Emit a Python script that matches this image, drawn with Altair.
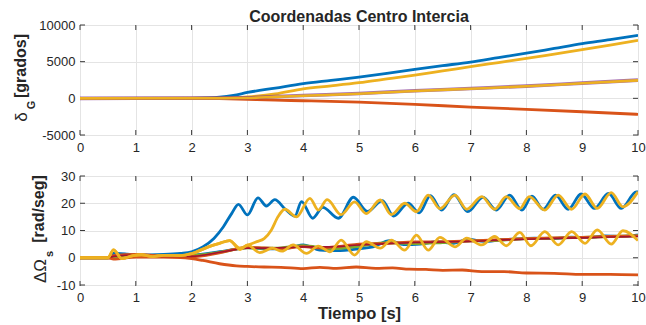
import altair as alt
import pandas as pd

# ---------------- top panel: delta_G [grados] ----------------
TOP_BLUE_T = [0, 2.0, 2.3, 2.5, 2.75, 3.0, 3.5, 4.0, 4.5, 5.0, 5.5, 6.0, 6.5, 7.0, 7.5, 8.0, 8.5, 9.0, 9.5, 10]
TOP_BLUE_V = [0, 0, 50, 150, 400, 800, 1400, 2000, 2450, 2900, 3400, 3950, 4450, 4950, 5550, 6150, 6800, 7450, 8000, 8600]

TOP_YEL1_T = [0, 2.5, 3.0, 3.5, 4.0, 4.5, 5.0, 5.5, 6.0, 6.5, 7.0, 7.5, 8.0, 8.5, 9.0, 9.5, 10]
TOP_YEL1_V = [0, 0, 200, 600, 1300, 1700, 2130, 2650, 3180, 3750, 4310, 4880, 5450, 6040, 6630, 7250, 7900]

TOP_YEL2_T = [0, 3.0, 3.5, 4.0, 5.0, 6.0, 7.0, 8.0, 9.0, 10]
TOP_YEL2_V = [0, 50, 200, 350, 630, 1000, 1310, 1640, 2050, 2450]
TOP_PUR_V = [0, 80, 230, 380, 660, 1030, 1340, 1670, 2080, 2480]

TOP_ORA_T = [0, 2.0, 2.5, 3.0, 3.5, 4.0, 5.0, 6.0, 7.0, 8.0, 9.0, 10]
TOP_ORA_V = [0, 0, -50, -150, -250, -330, -520, -820, -1190, -1500, -1830, -2180]

# ---------------- bottom panel: delta_Omega_s [rad/seg] ----------------
BOT_BLUE1_T = [0, 0.5, 0.6, 0.8, 1.0, 1.5, 1.8, 2.0, 2.2, 2.4, 2.57, 2.72, 2.84, 3.0, 3.19, 3.34, 3.49,
               3.68, 3.85, 3.97, 4.17, 4.35, 4.63, 4.9, 5.15, 5.42, 5.62, 5.88, 6.08, 6.28, 6.48, 6.7,
               6.95, 7.22, 7.46, 7.7, 7.92, 8.1, 8.3, 8.52, 8.75, 8.98, 9.22, 9.47, 9.7, 9.97, 10]
BOT_BLUE1_V = [0, 0, 1.5, 1.3, 1.0, 1.2, 1.6, 2.2, 4.0, 7.1, 11.4, 16.3, 19.6, 15.7, 22.0, 19.0, 21.3,
               17.8, 15.3, 20.6, 14.5, 18.5, 14.5, 22.2, 17.0, 21.0, 15.3, 20.0, 16.5, 22.8, 17.5, 23.2,
               16.9, 22.2, 17.5, 23.0, 17.5, 22.6, 17.8, 23.0, 17.8, 23.4, 18.1, 23.6, 18.1, 24.2, 24.2]

BOT_YEL1_T = [0, 0.5, 0.6, 0.75, 0.95, 1.1, 1.3, 1.5, 1.8, 2.0, 2.3, 2.5, 2.68, 2.87, 3.0, 3.17, 3.3,
              3.43, 3.55, 3.67, 3.88, 4.12, 4.27, 4.43, 4.68, 4.92, 5.13, 5.38, 5.58, 5.82, 6.03, 6.24,
              6.45, 6.72, 6.93, 7.2, 7.43, 7.64, 7.88, 8.05, 8.33, 8.57, 8.81, 9.05, 9.27, 9.52, 9.73, 10.0]
BOT_YEL1_V = [0, 0, 2.9, -0.3, 0.8, 1.1, 0.4, 0.9, 0.8, 1.5, 4.0, 5.3, 6.3, 3.5, 4.6, 5.9, 7.0,
              10.2, 15.1, 17.8, 15.0, 21.8, 17.5, 21.3, 15.8, 20.5, 16.2, 21.2, 15.8, 20.0, 16.9, 23.0,
              18.0, 23.0, 17.8, 22.4, 17.8, 22.4, 18.0, 22.4, 17.5, 23.0, 17.8, 23.4, 18.1, 23.9, 18.7, 24.2]

BOT_YEL2_T = [0, 0.5, 0.6, 0.75, 0.95, 1.1, 1.3, 1.5, 1.8, 2.0, 2.3, 2.5, 2.68, 2.87, 3.0, 3.22, 3.45,
              3.62, 3.82, 4.06, 4.27, 4.48, 4.68, 4.92, 5.13, 5.38, 5.58, 5.82, 6.03, 6.24, 6.45, 6.72,
              6.93, 7.2, 7.43, 7.64, 7.88, 8.08, 8.33, 8.57, 8.81, 9.05, 9.27, 9.52, 9.73, 10.0]
BOT_YEL2_V = [0, 0, 2.9, -0.3, 0.8, 1.1, 0.4, 0.9, 0.8, 1.5, 4.0, 5.3, 6.3, 3.0, 4.7, 1.9, 3.5,
              2.4, 4.7, 1.6, 4.3, 2.2, 6.5, 1.0, 5.9, 3.5, 6.5, 2.8, 8.3, 2.8, 7.5, 4.0,
              7.2, 4.7, 7.8, 4.4, 9.3, 4.4, 9.6, 4.7, 9.6, 5.3, 10.2, 5.0, 9.9, 6.3]

BOT_BLUE2_T = [0, 0.5, 0.6, 1.0, 1.5, 2.0, 2.5, 2.8, 3.0, 3.3, 3.6, 3.8, 4.0, 4.3, 4.6, 5.0, 5.25, 5.55,
               5.8, 6.1, 6.4, 6.7, 6.95, 7.25, 7.55, 7.85, 8.15, 8.5, 8.8, 9.1, 9.4, 9.7, 10]
BOT_BLUE2_V = [0, 0, 1.6, 1.1, 0.7, 0.9, 2.2, 3.2, 3.7, 3.3, 3.3, 3.8, 4.7, 2.8, 2.6, 3.3, 4.0, 6.3,
               4.8, 5.0, 5.9, 5.3, 6.8, 6.0, 6.6, 6.9, 7.2, 7.0, 7.6, 7.4, 8.0, 7.8, 8.4]

BOT_ORA2_T = [0, 0.5, 0.6, 1.0, 1.5, 2.0, 2.5, 3.0, 3.3, 3.6, 4.0, 4.3, 4.7, 5.0, 5.5, 6.0, 6.5, 7.0,
              7.5, 8.0, 8.5, 9.0, 9.5, 10]
BOT_ORA2_V = [0, 0, 0.8, 1.2, 0.6, 0.4, 1.8, 3.8, 3.6, 3.4, 4.1, 3.6, 4.3, 5.0, 5.3, 5.8, 5.9, 6.2,
              6.6, 7.0, 7.3, 7.5, 7.8, 8.0]

BOT_DRED_T = [0, 0.5, 0.6, 1.0, 1.5, 2.0, 2.5, 3.0, 3.5, 4.0, 4.5, 5.0, 5.5, 6.0, 6.5, 7.0, 7.5, 8.0,
              8.5, 9.0, 9.5, 10]
BOT_DRED_V = [0, 0, 0.5, 1.0, 0.5, 0.5, 2.0, 3.5, 3.6, 4.0, 4.0, 4.7, 5.2, 5.6, 5.8, 6.0, 6.5, 6.8,
              7.1, 7.3, 7.6, 7.8]

BOT_GRN_T = [0, 0.5, 1.0, 2.0, 2.5, 3.0, 3.5, 4.0, 4.5, 5.0, 5.5, 6.0, 6.5, 7.0, 7.5, 8.0, 8.5, 9.0,
             9.5, 10]
BOT_GRN_V = [0, 0, 0.8, 0.8, 2.0, 3.6, 3.5, 4.4, 3.3, 4.2, 5.5, 5.2, 5.6, 6.2, 6.4, 7.0, 7.2, 7.5,
             7.8, 8.1]

BOT_ORA1_T = [0, 0.5, 0.6, 1.0, 1.5, 1.8, 2.0, 2.2, 2.5, 2.8, 3.0, 3.3, 3.6, 4.0, 4.3, 4.6, 4.95, 5.3,
              5.6, 5.9, 6.2, 6.5, 6.85, 7.2, 7.6, 8.0, 8.5, 9.0, 9.5, 10]
BOT_ORA1_V = [0, 0, -0.5, 0.2, 0.2, 0.1, -0.3, -1.0, -2.2, -3.0, -3.2, -3.4, -3.5, -4.0, -3.5, -3.9,
              -3.4, -3.9, -3.7, -4.2, -4.3, -4.6, -4.5, -5.1, -5.1, -5.6, -5.7, -6.1, -6.1, -6.3]

# ---------------- axes ----------------
X_TICKS = [0, 1, 2, 3, 4, 5, 6, 7, 8, 9, 10]
TOP_Y_TICKS = [-5000, 0, 5000, 10000]
BOT_Y_TICKS = [-10, 0, 10, 20, 30]

BLUE, ORANGE, YELLOW = "#0072BD", "#D95319", "#EDB120"
PURPLE, GREEN, DARKRED = "#7E2F8E", "#77AC30", "#A2142F"
FONT = "Liberation Sans"
FRAME = "#3a3a3a"
INK = "#262626"
W, H = 558, 110
LW = 2.8


def enc_x(title=None):
    if title:
        axis = alt.Axis(values=X_TICKS, labelExpr="'' + datum.value", title=title)
    else:
        axis = alt.Axis(values=X_TICKS, labelExpr="'' + datum.value", title=None)
    return alt.X("t:Q", scale=alt.Scale(domain=[0, 10], nice=False, zero=False), axis=axis)


def enc_y(domain, ticks):
    return alt.Y("v:Q", scale=alt.Scale(domain=domain, nice=False, zero=False),
                 axis=alt.Axis(values=ticks, labelExpr="'' + datum.value", title=None))


def line(t, v, color, x, y, width=LW, opacity=1.0):
    return alt.Chart(pd.DataFrame({"t": t, "v": v})).mark_line(
        color=color, strokeWidth=width, interpolate="monotone", clip=True, opacity=opacity
    ).encode(x=x, y=y)


def box_ticks(x, y, yticks):
    xt = alt.Chart(pd.DataFrame({"t": X_TICKS}))
    yt = alt.Chart(pd.DataFrame({"v": yticks}))
    style = dict(color=FRAME, strokeWidth=1)
    return [
        xt.mark_rule(**style).encode(x=x, y=alt.value(H), y2=alt.value(H - 5)),
        xt.mark_rule(**style).encode(x=x, y=alt.value(0), y2=alt.value(5)),
        yt.mark_rule(**style).encode(y=y, x=alt.value(0), x2=alt.value(5)),
        yt.mark_rule(**style).encode(y=y, x=alt.value(W), x2=alt.value(W - 5)),
    ]


def label(text, x, y, size, weight="bold", angle=270):
    return alt.Chart(pd.DataFrame({"s": [text]})).mark_text(
        font=FONT, fontSize=size, fontWeight=weight, color=INK, angle=angle,
        align="center", baseline="alphabetic"
    ).encode(text="s:N", x=alt.value(x), y=alt.value(y))


# ---- top panel
xt_enc = enc_x()
yt_enc = enc_y([-5000, 10000], TOP_Y_TICKS)
top_layers = box_ticks(xt_enc, yt_enc, TOP_Y_TICKS) + [
    line(TOP_BLUE_T, TOP_BLUE_V, BLUE, xt_enc, yt_enc),
    line(TOP_ORA_T, TOP_ORA_V, ORANGE, xt_enc, yt_enc),
    line(TOP_YEL1_T, TOP_YEL1_V, YELLOW, xt_enc, yt_enc),
    line(TOP_YEL2_T, TOP_PUR_V, PURPLE, xt_enc, yt_enc, width=3.6, opacity=0.7),
    line(TOP_YEL2_T, TOP_YEL2_V, YELLOW, xt_enc, yt_enc, width=2.6),
    label("Coordenadas Centro Intercia", W / 2, -3, 16, angle=0),
    label("[grados]", -54, 41, 16),
    label("δ", -53, 92, 17, weight="normal"),
    label("G", -45, 80, 11),
]
top = alt.layer(*top_layers).properties(width=W, height=H)

# ---- bottom panel
xb_enc = enc_x("Tiempo [s]")
yb_enc = enc_y([-10, 30], BOT_Y_TICKS)
bot_layers = box_ticks(xb_enc, yb_enc, BOT_Y_TICKS) + [
    line(BOT_BLUE1_T, BOT_BLUE1_V, BLUE, xb_enc, yb_enc),
    line(BOT_BLUE2_T, BOT_BLUE2_V, BLUE, xb_enc, yb_enc),
    line(BOT_GRN_T, BOT_GRN_V, GREEN, xb_enc, yb_enc),
    line(BOT_ORA1_T, BOT_ORA1_V, ORANGE, xb_enc, yb_enc),
    line(BOT_ORA2_T, BOT_ORA2_V, ORANGE, xb_enc, yb_enc),
    line(BOT_DRED_T, BOT_DRED_V, DARKRED, xb_enc, yb_enc, width=1.6),
    line(BOT_YEL1_T, BOT_YEL1_V, YELLOW, xb_enc, yb_enc),
    line(BOT_YEL2_T, BOT_YEL2_V, YELLOW, xb_enc, yb_enc),
    label("[rad/seg]", -36, 33, 16),
    label("ΔΩ", -34, 95, 17, weight="normal"),
    label("s", -27, 78, 11),
]
bottom = alt.layer(*bot_layers).properties(width=W, height=H - 1)

chart = alt.vconcat(top, bottom, spacing=14).properties(
    autosize=alt.AutoSizeParams(type="pad"),
    padding={"left": 12, "top": 8, "right": 0, "bottom": 0},
).configure_view(
    stroke=FRAME, strokeWidth=1
).configure_axis(
    labelFont=FONT, labelFontSize=13, labelColor=INK, gridColor="#e4e4e4", gridWidth=1,
    domain=False, ticks=False, tickSize=0,
    titleFont=FONT, titleFontSize=16.5, titleFontWeight="bold", titleColor=INK,
).configure_axisX(
    labelPadding=6, labelFlush=False, titlePadding=1
).configure_axisY(
    labelPadding=5
)

chart.save("out.html", embed_options={"renderer": "svg", "actions": False})
